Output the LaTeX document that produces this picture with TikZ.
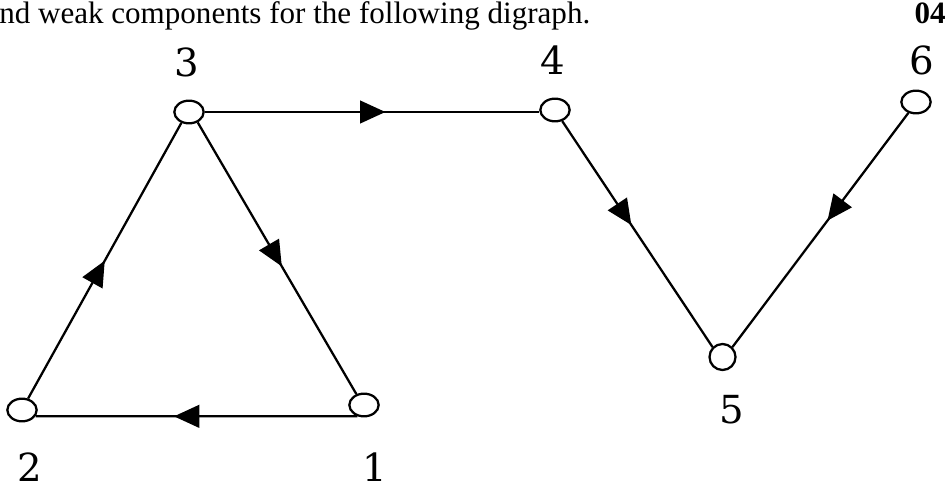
\documentclass[tikz,border=0pt]{standalone}
\usepackage{fontspec}
\setmainfont{Liberation Serif}
\newfontfamily\labfont{DejaVu Serif}
\usetikzlibrary{arrows.meta,decorations.markings,shapes.geometric}
\tikzset{
  vtx/.style={draw, ellipse, line width=1.7pt, minimum width=22pt, minimum height=17pt, inner sep=0pt, fill=white},
  lab/.style={font=\labfont\fontsize{29pt}{29pt}\selectfont, inner sep=0pt},
  edge/.style={line width=1.7pt},
  arr/.style={edge, postaction={decorate}, decoration={markings, mark=at position #1 with {\arrow{Triangle[length=19pt,width=17pt]}}}},
  hdrtext/.style={inner sep=0pt, font=\fontsize{23.3pt}{23.3pt}\selectfont}
}
\begin{document}
\begin{tikzpicture}[x=0.75pt,y=-0.75pt]
\useasboundingbox (0,0) rectangle (948,491);
% header text
\node[hdrtext, anchor=base west] (hdr) at (-1,23.5) {nd weak components for the following digraph.};
\node[hdrtext, anchor=base east, font=\bfseries\fontsize{23.3pt}{23.3pt}\selectfont] (num) at (946,23.5) {04};
% vertices
\node[vtx] (n1) at (364,405) {};
\node[vtx] (n2) at (22,410) {};
\node[vtx] (n3) at (189,112) {};
\node[vtx] (n4) at (555,110) {};
\node[vtx, minimum width=19.5pt, minimum height=19.5pt] (n5) at (722.5,357) {};
\node[vtx] (n6) at (916,102) {};
% labels
\node[lab] (l1) at (375,467) {1};
\node[lab] (l2) at (30,467) {2};
\node[lab] (l3) at (187,62) {3};
\node[lab] (l4) at (553,60) {4};
\node[lab] (l5) at (732,410) {5};
\node[lab] (l6) at (922,60) {6};
% edges
\draw[arr=0.57] (n1.240) -- (n2.-25);
\draw[arr=0.50] (n2.62) -- (n3.235);
\draw[arr=0.53] (n3.-50) -- (n1.125);
\draw[arr=0.54] (n3.east) -- (n4.west |- n3.east);
\draw[arr=0.46] (n4.-57) -- (n5.135);
\draw[arr=0.46] (n6.-125) -- (n5.45);
\end{tikzpicture}
\end{document}
